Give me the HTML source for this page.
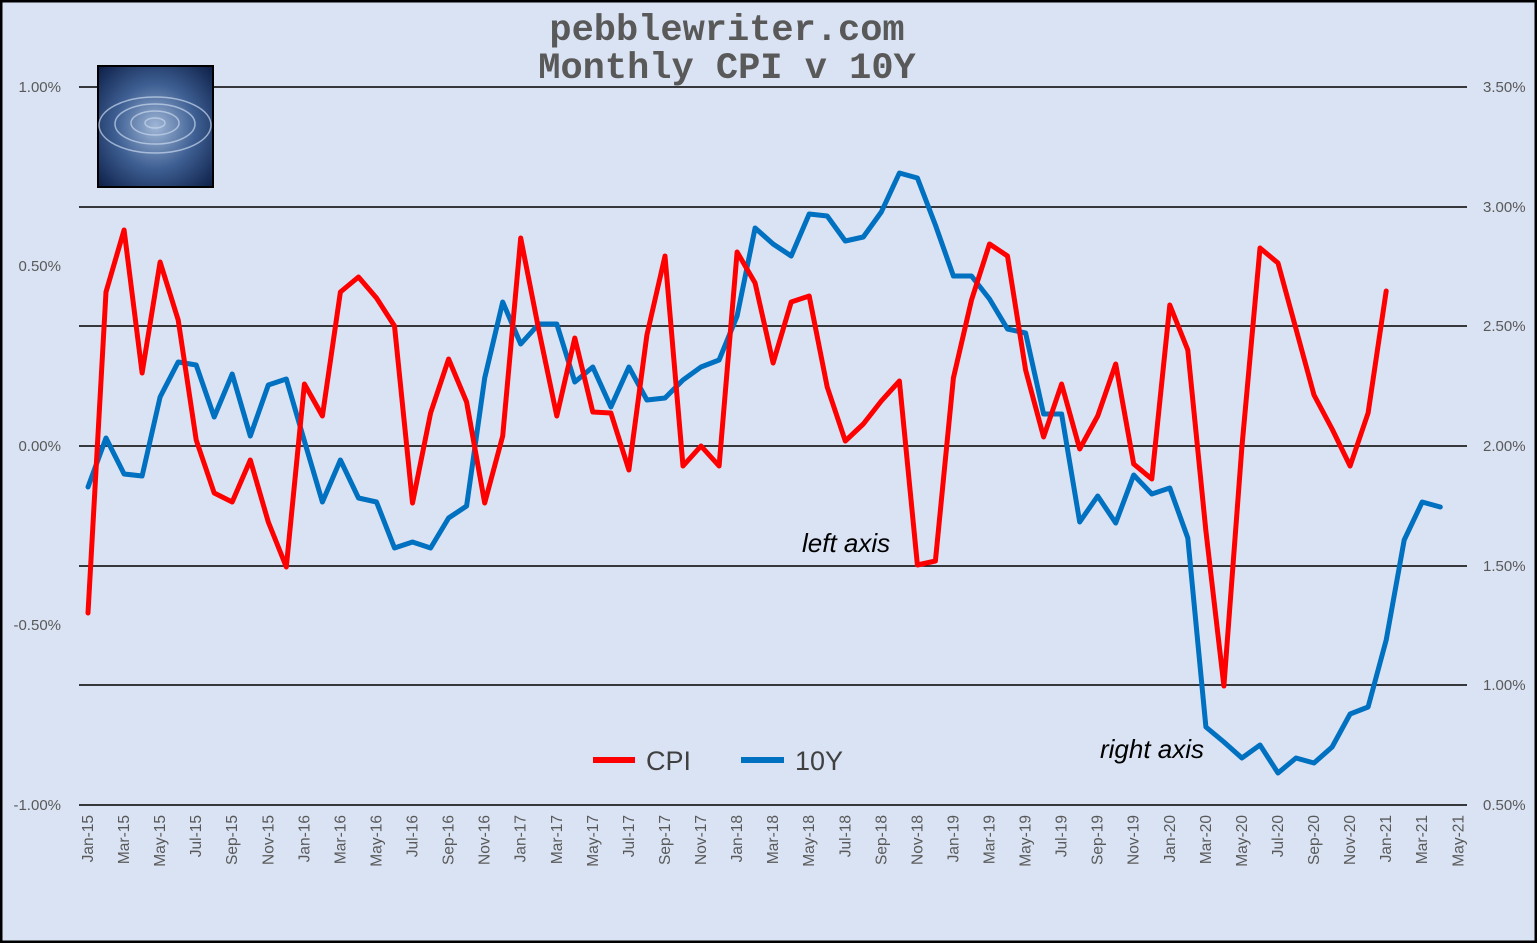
<!DOCTYPE html>
<html><head><meta charset="utf-8"><style>
html,body{margin:0;padding:0;background:#dae3f3;}
svg{display:block;}
</style></head><body>
<svg id="c" width="1537" height="943" xmlns="http://www.w3.org/2000/svg" font-family="Liberation Sans, sans-serif">
<defs>
<radialGradient id="rg" cx="50%" cy="50%" r="70%">
<stop offset="0" stop-color="#9fb6d6"/><stop offset="0.5" stop-color="#3e5f93"/><stop offset="1" stop-color="#0d1f47"/>
</radialGradient>
</defs>
<rect x="1" y="1" width="1535" height="941" fill="#dae3f3" stroke="#000" stroke-width="3"/>
<g id="grid" stroke="#000" stroke-width="1.5"></g>
<text x="727" y="40" text-anchor="middle" font-family="Liberation Mono, monospace" font-weight="bold" font-size="37" fill="#595959">pebblewriter.com</text>
<text x="727" y="78" text-anchor="middle" font-family="Liberation Mono, monospace" font-weight="bold" font-size="37" fill="#595959">Monthly CPI v 10Y</text>
<rect x="98" y="66" width="115" height="121" fill="url(#rg)" stroke="#000" stroke-width="2"/>
<g fill="none" stroke="#c8d8ee" stroke-width="1.5" opacity="0.7">
<ellipse cx="155" cy="123" rx="10" ry="5"/><ellipse cx="155" cy="123" rx="24" ry="12"/><ellipse cx="155" cy="124" rx="40" ry="20"/><ellipse cx="155" cy="125" rx="56" ry="28"/>
</g>
<g id="ylab" font-size="15" fill="#595959"></g>
<g id="xlab" font-size="15.5" fill="#595959"></g>
<g id="series" fill="none" stroke-width="5" stroke-linejoin="round" stroke-linecap="round"></g>
<line x1="593" y1="760" x2="635" y2="760" stroke="#ff0000" stroke-width="6"/>
<text x="646" y="770" font-size="27" fill="#404040">CPI</text>
<line x1="741" y1="760" x2="784" y2="760" stroke="#0070c0" stroke-width="6"/>
<text x="795" y="770" font-size="27" fill="#404040">10Y</text>
<text x="802" y="552" font-size="26" font-style="italic" fill="#000">left axis</text>
<text x="1100" y="758" font-size="26" font-style="italic" fill="#000">right axis</text>
</svg>
<script>
var ns="http://www.w3.org/2000/svg";
function el(p,t,a,txt){var e=document.createElementNS(ns,t);for(var k in a)e.setAttribute(k,a[k]);if(txt!=null)e.textContent=txt;document.getElementById(p).appendChild(e);}
var gy=[87,207,326,446,566,685,805];
gy.forEach(function(y){el("grid","line",{x1:79,x2:1467,y1:y,y2:y});});
var lv=[["1.00%",87],["0.50%",266],["0.00%",446],["-0.50%",625],["-1.00%",805]];
lv.forEach(function(v){el("ylab","text",{x:61,y:v[1]+5,"text-anchor":"end"},v[0]);});
var rv=["3.50%","3.00%","2.50%","2.00%","1.50%","1.00%","0.50%"];
rv.forEach(function(v,i){el("ylab","text",{x:1483,y:gy[i]+5},v);});
var mn=["Jan","Mar","May","Jul","Sep","Nov"];
var dx=18.03,x0=88;
for(var i=0;i<=76;i+=2){var yr=15+Math.floor(i/12);var lab=mn[(i%12)/2]+"-"+yr;var x=x0+i*dx+5;
el("xlab","text",{x:0,y:0,transform:"translate("+x+",815) rotate(-90)","text-anchor":"end"},lab);}
var cpi=[613,292,230,373,262,320,440,493,502,460,522,567,384,416,292,277,298,326,503,413,359,402,503,436,238,330,416,338,412,413,470,335,256,466,446,466,252,283,363,302,296,387,441,424,401,381,565,561,378,300,244,256,370,437,384,449,416,364,464,479,305,350,531,686,447,248,263,329,395,429,466,413,291];
var ty=[487,438,474,476,397,362,365,417,374,436,385,379,441,502,460,498,502,548,542,548,518,506,378,302,344,324,324,382,367,407,367,400,398,380,367,360,316,228,244,256,214,216,241,237,212,173,178,225,276,276,299,329,333,414,414,522,496,523,475,494,488,538,727,742,758,745,773,758,763,747,714,707,640,540,502,507];
function pts(a){return a.map(function(y,i){return (x0+i*dx).toFixed(1)+","+y;}).join(" ");}
el("series","polyline",{points:pts(ty),stroke:"#0070c0"});
el("series","polyline",{points:pts(cpi),stroke:"#ff0000"});
</script>
</body></html>
